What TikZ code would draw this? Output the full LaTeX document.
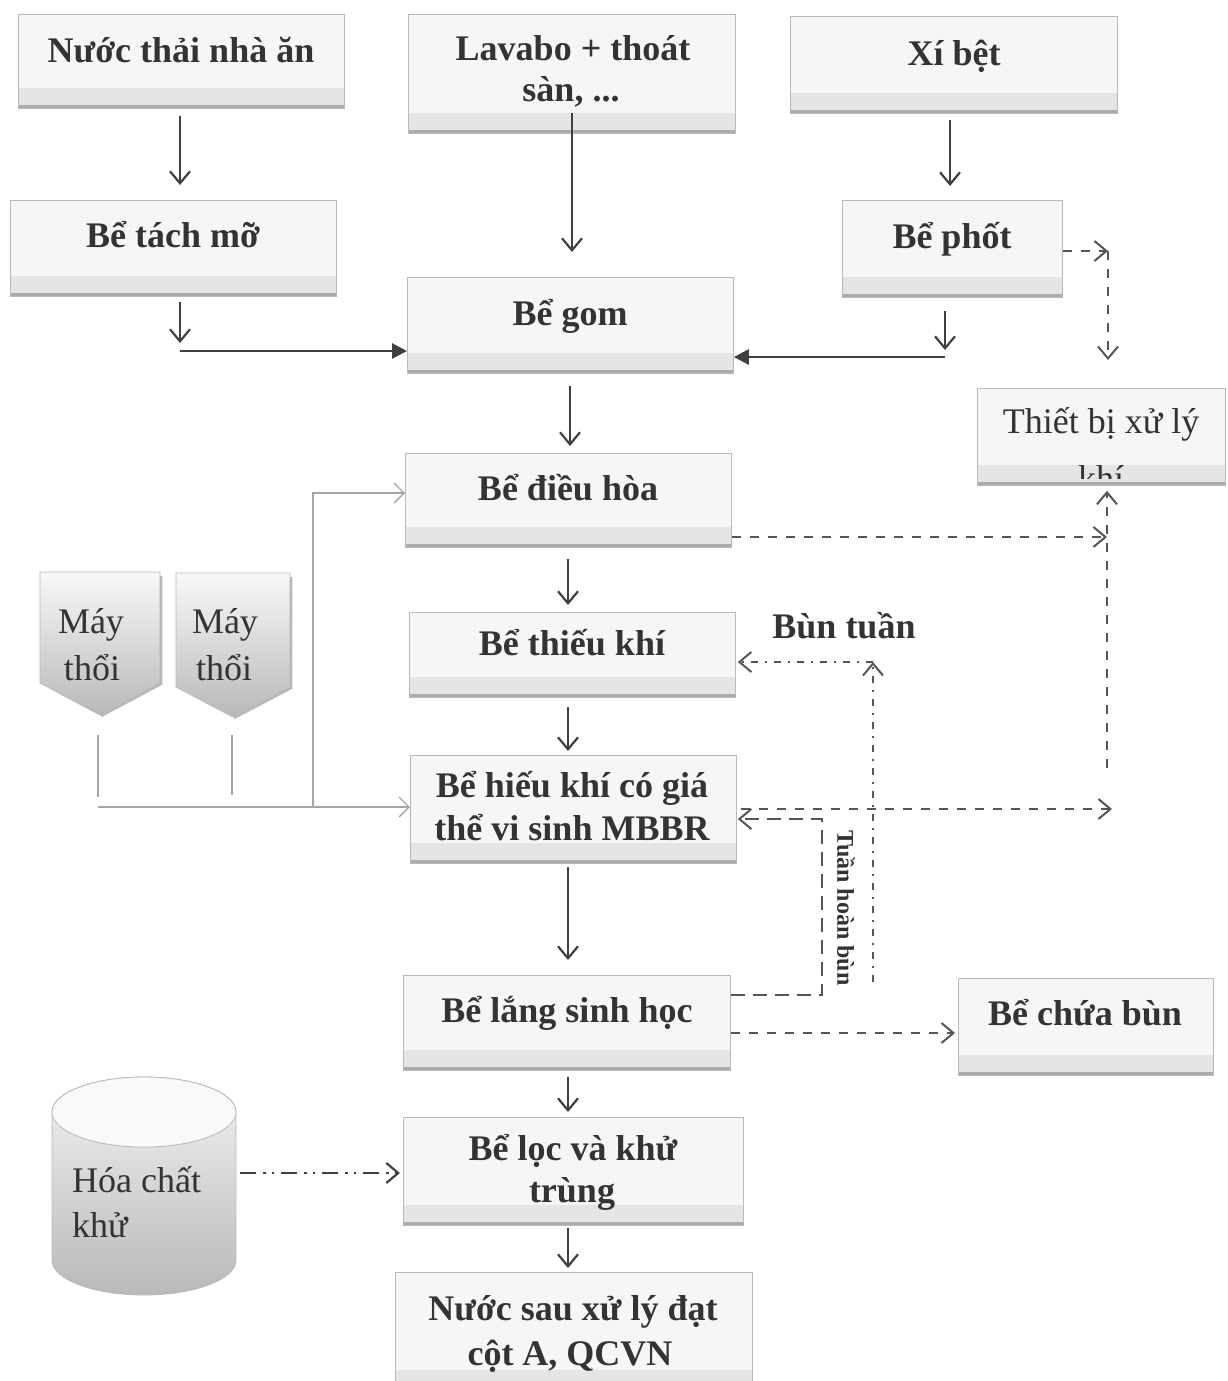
\documentclass[tikz,border=0pt]{standalone}
\usepackage{fontspec}
\setmainfont{Liberation Serif}
\usetikzlibrary{arrows.meta}
\definecolor{ink}{HTML}{333333}
\definecolor{lineC}{HTML}{404040}
\definecolor{dashC}{HTML}{555555}
\tikzset{
  box/.style={draw=gray!55, line width=0.8pt, fill=gray!7, rectangle, inner sep=0pt, anchor=north west,
    path picture={\fill[gray!20] ([yshift=20pt]path picture bounding box.south west) rectangle (path picture bounding box.south east);
      \draw[gray!65,line width=7pt] (path picture bounding box.south west) -- (path picture bounding box.south east);}},
  lbl/.style={font=\fontsize{36}{42}\selectfont\bfseries, text=ink, anchor=base, inner sep=0pt},
  lbln/.style={font=\fontsize{36}{42}\selectfont, text=ink, anchor=base, inner sep=0pt},
  flow/.style={draw=lineC, line width=2.2pt, -{Straight Barb[length=12pt,width=20pt,line width=2.2pt]}},
  fflow/.style={draw=lineC, line width=2.8pt, -{Triangle[length=15pt,width=15pt]}},
  thin/.style={draw=gray!70, line width=1.3pt},
  thinarrow/.style={thin, -{Straight Barb[length=10pt,width=20pt,line width=1.3pt]}},
  dflow/.style={draw=dashC, line width=2pt, dash pattern=on 9pt off 9pt, -{Straight Barb[length=12pt,width=20pt,line width=2pt]}},
  dflowtwo/.style={draw=dashC, line width=2pt, dash pattern=on 14pt off 8pt, -{Straight Barb[length=12pt,width=20pt,line width=2pt]}},
  ddflow/.style={draw=dashC, line width=2pt, dash pattern=on 7pt off 7pt on 2pt off 7pt, -{Straight Barb[length=12pt,width=20pt,line width=2pt]}},
  dddflow/.style={draw=lineC, line width=2.8pt, dash pattern=on 16pt off 7pt on 2.5pt off 6pt on 2.5pt off 7pt, -{Straight Barb[length=12pt,width=20pt,line width=2.2pt]}},
}
\newcommand\flowbox[5]{\node[box,minimum width=#4pt,minimum height=#5pt] (#1) at (#2,#3) {};}
\begin{document}
\begin{tikzpicture}[x=1pt,y=-1pt]
\useasboundingbox (0,0) rectangle (1227,1381);
\fill[white] (0,0) rectangle (1227,1381);

% boxes
\flowbox{b1}{18}{14}{326}{94}
\flowbox{b2}{408}{14}{327}{119}
\flowbox{b3}{790}{16}{327}{97}
\flowbox{b4}{10}{200}{326}{96}
\flowbox{b5}{842}{200}{220}{97}
\flowbox{b6}{407}{277}{326}{96}
\flowbox{b7}{977}{388}{248}{97}
\flowbox{b8}{405}{453}{326}{94}
\flowbox{b9}{409}{612}{326}{85}
\flowbox{b11}{410}{755}{326}{108}
\flowbox{b12}{403}{975}{327}{95}
\flowbox{b13}{958}{978}{255}{97}
\flowbox{b14}{403}{1117}{340}{108}
\flowbox{b15}{395}{1272}{357}{118}

% texts
\node[lbl] (t1) at (181,63) {Nước thải nhà ăn};
\node[lbl] (t2a) at (573,60) {Lavabo + thoát};
\node[lbl] (t2b) at (571,101) {sàn, ...};
\node[lbl] (t3) at (954,66) {Xí bệt};
\node[lbl] (t4) at (173,247) {Bể tách mỡ};
\node[lbl] (t5) at (952,248) {Bể phốt};
\node[lbl] (t6) at (570,325) {Bể gom};
\node[lbln] (t7a) at (1101,433) {Thiết bị xử lý};
\begin{scope}
  \clip (977,388) rectangle (1225,478);
  \node[lbln] (t7b) at (1101,490) {khí};
\end{scope}
\node[lbl] (t8) at (568,500) {Bể điều hòa};
\node[lbl] (t9) at (572,655) {Bể thiếu khí};
\node[lbl] (t10) at (844,638) {Bùn tuần};
\node[lbl] (t11a) at (572,797) {Bể hiếu khí có giá};
\node[lbl] (t11b) at (572,840) {thể vi sinh MBBR};
\node[lbl, font=\fontsize{24}{28}\selectfont\bfseries, rotate=-90, anchor=center] (t16) at (846,908) {Tuần hoàn bùn};
\node[lbl] (t12) at (567,1022) {Bể lắng sinh học};
\node[lbl] (t13) at (1085,1025) {Bể chứa bùn};
\node[lbl] (t14a) at (573,1160) {Bể lọc và khử};
\node[lbl] (t14b) at (572,1202) {trùng};
\node[lbl] (t15a) at (573,1320) {Nước sau xử lý đạt};
\node[lbl] (t15b) at (570,1365) {cột A, QCVN};

% blowers
\shade[top color=gray!5, middle color=gray!22, bottom color=gray!55, draw=gray!55, line width=0.8pt]
  (40,572) -- (160,572) -- (160,683) -- (100,715) -- (40,683) -- cycle;
\draw[gray!55, line width=2.5pt] (161,576) -- (161,684) -- (101,716);
\shade[top color=gray!5, middle color=gray!22, bottom color=gray!55, draw=gray!55, line width=0.8pt]
  (176,573) -- (290,573) -- (290,687) -- (233,717) -- (176,687) -- cycle;
\draw[gray!55, line width=2.5pt] (291,577) -- (291,688) -- (234,718);
\node[lbln] (m1a) at (91,633) {Máy};
\node[lbln] (m1b) at (92,680) {thổi};
\node[lbln] (m2a) at (225,633) {Máy};
\node[lbln] (m2b) at (224,680) {thổi};

% cylinder
\shade[top color=gray!10, middle color=gray!30, bottom color=gray!55, draw=gray!55, line width=0.8pt]
  (52,1112) -- (52,1260) arc[start angle=180, end angle=360, x radius=92pt, y radius=35pt]
  -- (236,1112) arc[start angle=0, end angle=180, x radius=92pt, y radius=35pt] -- cycle;
\filldraw[fill=gray!5, draw=gray!55, line width=0.8pt] (144,1112) ellipse [x radius=92pt, y radius=35pt];
\node[lbln, anchor=base west] (c1) at (72,1192) {Hóa chất};
\node[lbln, anchor=base west] (c2) at (72,1237) {khử};
\coordinate (cylR) at (240,1173);

% coordinates
\coordinate (j1) at (180,351);
\coordinate (j2) at (945,357);
\coordinate (j3) at (1108,251);
\coordinate (j4) at (1107,537);
\coordinate (j5) at (1107,768);
\coordinate (j6) at (1112,809);
\coordinate (j7) at (822,995);
\coordinate (j8) at (822,819);
\coordinate (j9) at (873,982);
\coordinate (j10) at (873,662);
\coordinate (a1) at (98,735);
\coordinate (a2) at (98,797);
\coordinate (a3) at (232,735);
\coordinate (a4) at (232,795);
\coordinate (a5) at (98,807);
\coordinate (a6) at (313,807);
\coordinate (a7) at (313,493);

% main flow
\draw[flow, shorten <=7pt, shorten >=15pt] (b1.south -| 180,0) -- (b4.north -| 180,0);
\draw[flow, shorten <=6pt, shorten >=25pt] (t2b.south -| 572,0) -- (b6.north -| 572,0);
\draw[flow, shorten <=6pt, shorten >=14pt] (b3.south -| 950,0) -- (b5.north -| 950,0);
\draw[flow, shorten <=5pt, shorten >=8pt] (b4.south -| j1) -- (j1);
\draw[fflow] (j1) -- (b6.west |- j1);
\draw[flow, shorten <=13pt, shorten >=7pt] (b5.south -| j2) -- (j2);
\draw[fflow] (j2) -- (b6.east |- j2);
\draw[flow, shorten <=12pt, shorten >=7pt] (b6.south -| 570,0) -- (b8.north -| 570,0);
\draw[flow, shorten <=11pt, shorten >=7pt] (b8.south -| 568,0) -- (b9.north -| 568,0);
\draw[flow, shorten <=9pt, shorten >=4pt] (b9.south -| 568,0) -- (b11.north -| 568,0);
\draw[flow, shorten <=3pt, shorten >=15pt] (b11.south -| 568,0) -- (b12.north -| 568,0);
\draw[flow, shorten <=6pt, shorten >=5pt] (b12.south -| 568,0) -- (b14.north -| 568,0);
\draw[flow, shorten <=2pt, shorten >=4pt] (b14.south -| 568,0) -- (b15.north -| 568,0);

% gas lines
\draw[dflow] (b5.east |- j3) -- (j3);
\draw[dflow, shorten >=28pt] (j3) -- (b7.north -| j3);
\draw[dflow] (b8.east |- j4) -- (j4);
\draw[dflow, shorten >=5pt] (j5) -- (b7.south -| j5);
\draw[dflow, shorten <=4pt] (b11.east |- j6) -- (j6);

% sludge
\draw[dflowtwo, shorten >=1pt] (b12.east |- j7) -- (j7) -- (j8) -- (b11.east |- j8);
\draw[ddflow] (j9) -- (j10);
\draw[ddflow, shorten >=2pt] (j10) -- (b9.east |- j10);
\draw[dflow, shorten >=3pt] (b12.east |- 0,1033) -- (b13.west |- 0,1033);

% chemical
\draw[dddflow, shorten >=3pt] (cylR) -- (b14.west |- cylR);

% air
\draw[thin] (a1) -- (a2);
\draw[thin] (a3) -- (a4);
\draw[thinarrow] (a5) -- (b11.west |- a5);
\draw[thinarrow] (a6) -- (a7) -- (b8.west |- a7);
\end{tikzpicture}
\end{document}
